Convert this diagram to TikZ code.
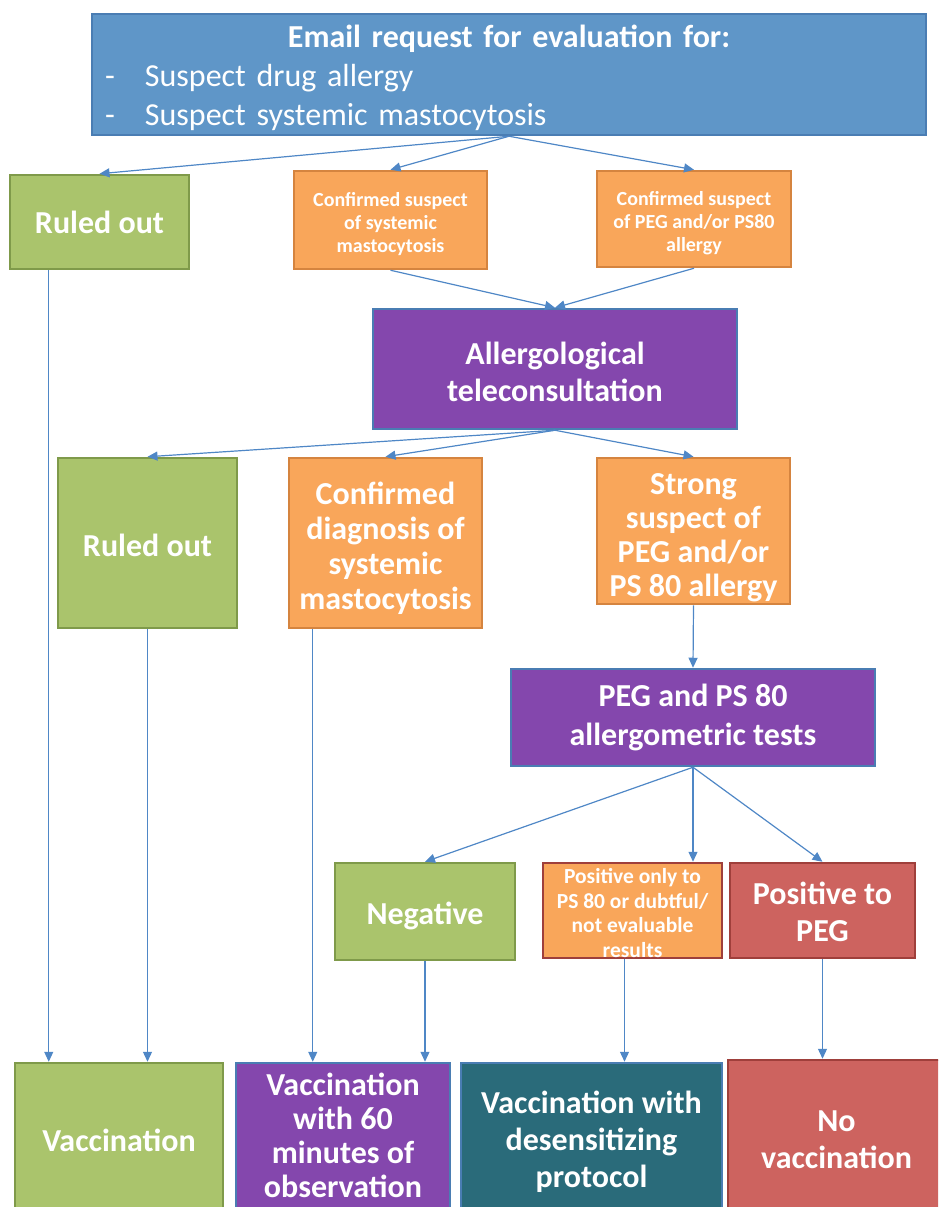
\documentclass[tikz,border=0pt]{standalone}
\usepackage{fontspec}
\setmainfont{Carlito}
\usetikzlibrary{arrows.meta}

\definecolor{topblue}{HTML}{5F96C8}
\definecolor{edgeblue}{HTML}{4A7DB3}
\definecolor{arrowblue}{HTML}{4F87C6}
\definecolor{boxgreen}{HTML}{AAC46C}
\definecolor{edgegreen}{HTML}{7F9A4A}
\definecolor{boxorange}{HTML}{F9A65A}
\definecolor{edgeorange}{HTML}{D5843F}
\definecolor{boxpurple}{HTML}{8447AD}
\definecolor{boxred}{HTML}{CD635F}
\definecolor{edgered}{HTML}{9F3F3B}
\definecolor{boxteal}{HTML}{2A6B7A}

% invisible struts to nudge text inside a box
\newcommand{\uppad}[1]{\rule{0pt}{#1}}
\newcommand{\downpad}[1]{\rule[-#1]{0pt}{0pt}}

\begin{document}
\begin{tikzpicture}[x=1pt,y=-1pt]
        \tikzset{flowbox/.style={draw, line width=2.5pt, text=white, align=center, inner sep=0pt,
                font=\bfseries\fontsize{32}{37}\selectfont},
            smalltext/.style={font=\bfseries\fontsize{20}{23}\selectfont},
            green box/.style={flowbox, fill=boxgreen, draw=edgegreen},
            orange box/.style={flowbox, fill=boxorange, draw=edgeorange},
            purple box/.style={flowbox, fill=boxpurple, draw=edgeblue},
            red box/.style={flowbox, fill=boxred, draw=edgered},
            teal box/.style={flowbox, fill=boxteal, draw=edgeblue},
            link/.style={draw=arrowblue, line width=1.2pt, -{Triangle[length=10pt,width=9pt]}}}

        \useasboundingbox (0,0) rectangle (938,1207);
        \clip (0,0) rectangle (938,1207);

        % request
        \node[flowbox, fill=topblue, draw=edgeblue, minimum width=834, minimum height=121,
            text width=808, align=left, font=\fontsize{32}{39}\selectfont] (request) at (509,74.5)
            {{\centering\bfseries\uppad{29pt}Email request for evaluation for:\par}
             \makebox[40pt][l]{-}Suspect drug allergy\\
             \makebox[40pt][l]{-}Suspect systemic mastocytosis};

        % first screening
        \node[green box, minimum width=179, minimum height=94] (ruled1) at (99.5,222) {Ruled out};
        \node[orange box, smalltext, minimum width=193, minimum height=98] (suspSM) at (390.5,220)
            {\uppad{22pt}Confirmed suspect\\of systemic\\mastocytosis};
        \node[orange box, smalltext, minimum width=194, minimum height=96] (suspPEG) at (694,219)
            {\uppad{22pt}Confirmed suspect\\of PEG and/or PS80\\allergy};

        \node[purple box, minimum width=364, minimum height=120] (tele) at (555,369)
            {\uppad{28pt}Allergological\\teleconsultation};

        % after teleconsultation
        \node[green box, minimum width=179, minimum height=170] (ruled2) at (147.5,543) {\uppad{27pt}Ruled out};
        \node[orange box, font=\bfseries\fontsize{32}{35}\selectfont, minimum width=193, minimum height=170]
            (diagSM) at (385.5,543)
            {\uppad{34pt}Confirmed\\diagnosis of\\systemic\\mastocytosis};
        \node[orange box, font=\bfseries\fontsize{32}{34}\selectfont, minimum width=193, minimum height=146]
            (strong) at (693.5,531)
            {\uppad{35pt}Strong\\suspect of\\PEG and/or\\PS 80 allergy};

        \node[purple box, font=\bfseries\fontsize{32}{39}\selectfont, minimum width=364, minimum height=97]
            (tests) at (693,717.5)
            {PEG and PS 80\\allergometric tests};

        % test results
        \node[green box, minimum width=180, minimum height=97] (negative) at (425,911.5) {\uppad{32pt}Negative};
        \node[orange box, draw=edgered, font=\bfseries\fontsize{21.5}{24.5}\selectfont,
            minimum width=179, minimum height=95] (dubious) at (632.5,910.5)
            {\uppad{20pt}Positive only to\\PS 80 or dubtful/\\not evaluable\\results};
        \node[red box, minimum width=185, minimum height=95] (posPEG) at (822.5,910.5)
            {\uppad{26pt}Positive to\\PEG};

        % outcomes
        \node[green box, minimum width=208, minimum height=154] (vacc) at (119,1140) {Vaccination};
        \node[purple box, font=\bfseries\fontsize{32}{34}\selectfont, minimum width=214, minimum height=154]
            (vacc60) at (343,1140)
            {Vaccination\\with 60\\minutes of\\observation\downpad{10pt}};
        \node[teal box, minimum width=261, minimum height=154] (desens) at (591.5,1140)
            {\uppad{27pt}Vaccination with\\desensitizing\\protocol};
        \node[red box, minimum width=217, minimum height=160] (novacc) at (836.5,1140)
            {No\\vaccination};

        % connectors
        \draw[link] (request.south) -- (ruled1.north);
        \draw[link] (request.south) -- (suspSM.north);
        \draw[link] (request.south) -- (suspPEG.north);
        \draw[link] (suspSM.south) -- (tele.north);
        \draw[link] (suspPEG.south) -- (tele.north);
        \draw[link] (tele.south) -- (ruled2.north);
        \draw[link] (tele.south) -- (diagSM.north);
        \draw[link] (tele.south) -- (strong.north);
        \draw[link] (strong.south) -- (tests.north);
        \draw[link] (tests.south) -- (negative.north);
        \draw[link] (tests.south) -- (tests.south |- dubious.north);
        \draw[link] (tests.south) -- (posPEG.north);
        \draw[link] ([xshift=40]ruled1.south west) -- ([xshift=40]ruled1.south west |- vacc.north);
        \draw[link] (ruled2.south) -- (ruled2.south |- vacc.north);
        \draw[link] ([xshift=25]diagSM.south west) -- ([xshift=25]diagSM.south west |- vacc60.north);
        \draw[link] (negative.south) -- (negative.south |- vacc60.north);
        \draw[link] ([xshift=-8]dubious.south) -- ([xshift=-8]dubious.south |- desens.north);
        \draw[link] (posPEG.south) -- (posPEG.south |- novacc.north);
    \end{tikzpicture}
\end{document}
